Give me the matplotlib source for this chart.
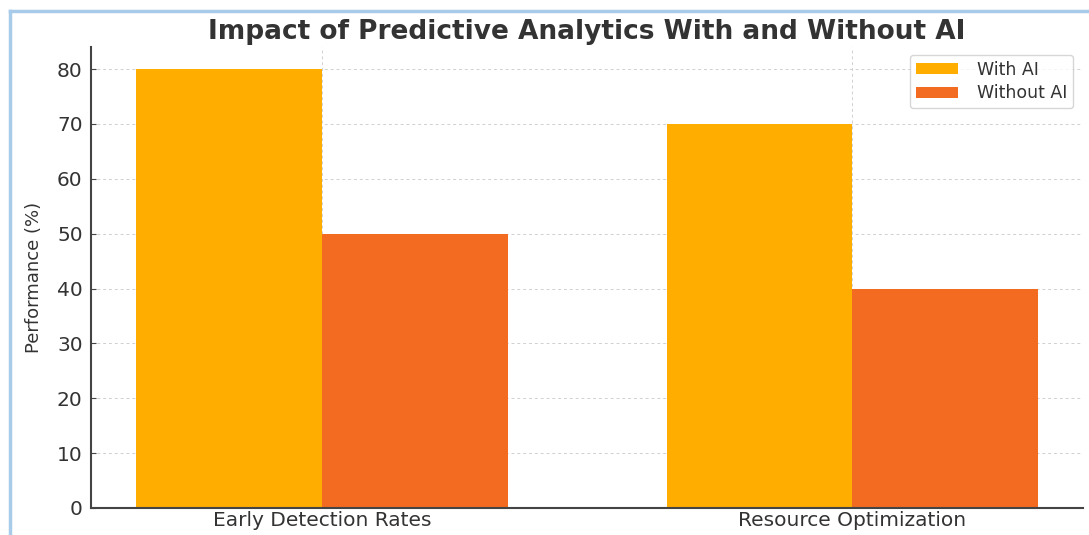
import numpy as np
import matplotlib
matplotlib.use('Agg')
import matplotlib.pyplot as plt
from matplotlib.lines import Line2D

categories = ['Early Detection Rates', 'Resource Optimization']
with_ai = [80, 70]
without_ai = [50, 40]
series_names = ['With AI', 'Without AI']

fig = plt.figure(figsize=(10.89, 5.35), dpi=100)
ax = fig.add_axes([0.0836, 0.0505, 0.911, 0.8615])

x = np.arange(len(categories))
w = 0.35
ax.bar(x - w/2, with_ai, w, color='#FFAE00', label=series_names[0], zorder=2)
ax.bar(x + w/2, without_ai, w, color='#F26B21', label=series_names[1], zorder=2)

ax.set_xticks(x)
ax.set_xticklabels(categories, fontsize=14.5, color='#333333')
ax.set_yticks(np.arange(0, 81, 10))
ax.tick_params(axis='y', labelsize=14.5, labelcolor='#333333', direction='in',
               color='#444444', pad=6)
ax.tick_params(axis='x', direction='in', color='#444444', pad=2)
ax.set_ylabel('Performance (%)', fontsize=13, color='#333333',
              family=['Liberation Sans Narrow', 'DejaVu Sans'], labelpad=10)
ax.set_title('Impact of Predictive Analytics With and Without AI',
             fontsize=19, fontweight='bold', color='#333333', pad=6)

ax.grid(True, linestyle=(0, (3, 3)), color='#d0d0d0', linewidth=0.7, zorder=0)
ax.set_axisbelow(True)
for s in ['top', 'right']:
    ax.spines[s].set_visible(False)
for s in ['left', 'bottom']:
    ax.spines[s].set_color('#444444')
    ax.spines[s].set_linewidth(1.5)

ax.legend(loc='upper right', fontsize=12.5, frameon=True, edgecolor='#cccccc',
          labelcolor='#333333', handlelength=2.4, handleheight=0.6,
          labelspacing=0.3, borderpad=0.35, handletextpad=1.1,
          borderaxespad=0, bbox_to_anchor=(0.99, 0.983))

# light blue screenshot border
fig.add_artist(Line2D([10/1089, 10/1089], [0, 1 - 11/535], color='#A8CBEA', lw=2.5,
                      transform=fig.transFigure))
fig.add_artist(Line2D([10/1089, 1], [1 - 11/535, 1 - 11/535], color='#A8CBEA', lw=2.5,
                      transform=fig.transFigure))

fig.savefig('out.png', dpi=100)
